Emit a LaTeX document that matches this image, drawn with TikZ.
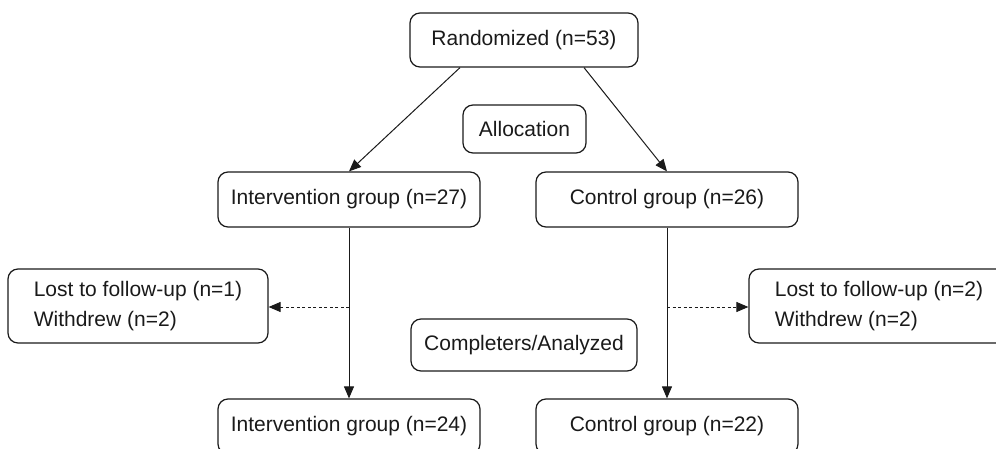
\documentclass[tikz,border=0pt]{standalone}
\usepackage{fontspec}
\setmainfont{Liberation Sans}
\usetikzlibrary{arrows.meta}
\definecolor{ink}{HTML}{1A1A1A}
\tikzset{
  box/.style={draw=ink, line width=1.2pt, rounded corners=10pt, text=ink,
    font=\fontsize{21}{30}\selectfont, inner sep=0pt, align=center},
  lostbox/.style={box, align=left, minimum width=260pt, minimum height=74pt},
  conn/.style={draw=ink, line width=1pt, -{Triangle[length=12pt,width=10pt]}},
  dconn/.style={conn, dash pattern=on 3pt off 2.5pt}
}
\begin{document}
\begin{tikzpicture}[x=1pt,y=-1pt]
\clip (0,0) rectangle (996,449);
\node[box, minimum width=228pt, minimum height=54pt] (rand) at (524,40) {Randomized (n=53)};
\node[box, minimum width=123pt, minimum height=48pt] (alloc) at (524.5,129) {Allocation};
\node[box, minimum width=262pt, minimum height=55pt] (int1) at (349,199.5) {Intervention group (n=27)};
\node[box, minimum width=262pt, minimum height=55pt] (ctl1) at (667,199.5) {Control group (n=26)};
\node[lostbox] (lostL) at (138,306) {Lost to follow-up (n=1)\\Withdrew (n=2)};
\node[lostbox] (lostR) at (879,306) {Lost to follow-up (n=2)\\Withdrew (n=2)};
\node[box, minimum width=226pt, minimum height=52pt] (comp) at (524,345) {Completers/Analyzed};
\node[box, minimum width=262pt, minimum height=55pt] (int2) at (349,426.5) {Intervention group (n=24)};
\node[box, minimum width=262pt, minimum height=55pt] (ctl2) at (667,426.5) {Control group (n=22)};
\coordinate (jL) at (349,307);
\coordinate (jR) at (667,307);
\draw[conn] (rand.south -| 460,0) -- (int1.north);
\draw[conn] (rand.south -| 584,0) -- (ctl1.north);
\draw[conn] (int1.south) -- (int2.north);
\draw[conn] (ctl1.south) -- (ctl2.north);
\draw[dconn] (jL) -- (lostL.east |- jL);
\draw[dconn] (jR) -- (lostR.west |- jR);
\end{tikzpicture}
\end{document}
